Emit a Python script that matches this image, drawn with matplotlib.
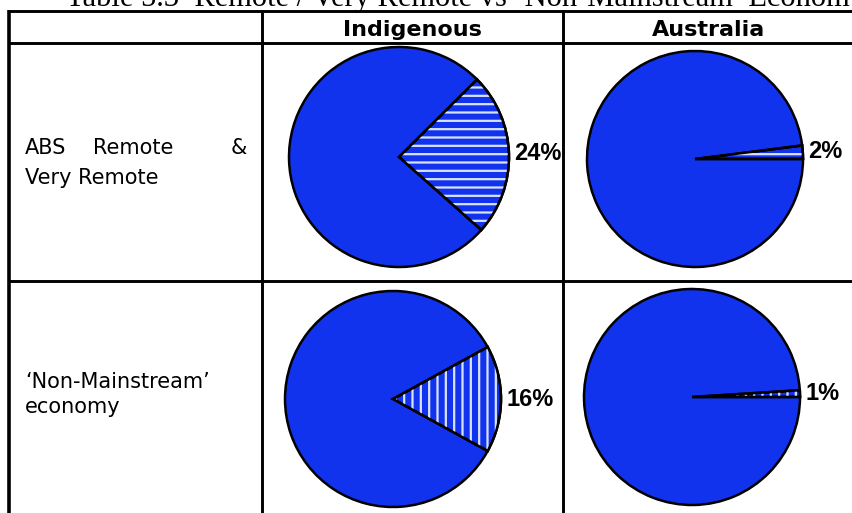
import matplotlib
matplotlib.use("Agg")
import matplotlib.pyplot as plt
from matplotlib.patches import Wedge

# ---- data ----
title = "Table 5.3  Remote / Very Remote vs \u2018Non-Mainstream\u2019 Economy"
columns = ["Indigenous", "Australia"]
rows = [["ABS", "Remote", "&"], ["Very Remote"]]
row2 = ["\u2018Non-Mainstream\u2019", "economy"]
pct_remote = [24, 2]          # Indigenous, Australia
pct_nonmain = [16, 1]
start_remote = [-41.6, 0]
start_nonmain = [-28.8, 0]

W, H = 853, 513
BLUE = "#1233EE"
HATCHC = "#D8E2FF"

plt.rcParams["hatch.linewidth"] = 1.6
fig = plt.figure(figsize=(W / 100, H / 100), dpi=100)
ax = fig.add_axes([0, 0, 1, 1])


def Y(y):
    return H - y


def draw_pie(cx, cy, r, pct, start, hatch):
    vals = [pct, 100 - pct]
    wedges, texts = ax.pie(
        vals, center=(cx, Y(cy)), radius=r, startangle=start,
        colors=[BLUE, BLUE], labels=[f"{pct}%", ""], labeldistance=1.05,
        wedgeprops=dict(edgecolor="black", linewidth=1.8),
        textprops=dict(fontsize=17, fontweight="bold", family="Liberation Sans"),
        frame=False,
    )
    w = wedges[0]
    hw = Wedge(w.center, w.r, w.theta1, w.theta2, facecolor="none",
               edgecolor=HATCHC, hatch=hatch, linewidth=0, zorder=3)
    ax.add_patch(hw)
    ow = Wedge(w.center, w.r, w.theta1, w.theta2, fill=False,
               edgecolor="black", linewidth=1.8, zorder=4)
    ax.add_patch(ow)


draw_pie(399, 157, 110, pct_remote[0], start_remote[0], "--")
draw_pie(695, 159, 108, pct_remote[1], start_remote[1], "--")
draw_pie(393, 399, 108, pct_nonmain[0], start_nonmain[0], "||")
draw_pie(692, 397, 108, pct_nonmain[1], start_nonmain[1], "||")

# ---- table lines ----
lw = 2.1
for yy in (11, 43, 281):
    ax.plot([8, W], [Y(yy), Y(yy)], color="black", lw=lw, solid_capstyle="butt")
ax.plot([9, 9], [Y(10), Y(H + 5)], color="black", lw=2.6, solid_capstyle="butt")
for xx in (262, 563):
    ax.plot([xx, xx], [Y(10), Y(H + 5)], color="black", lw=lw, solid_capstyle="butt")

# ---- header ----
hfont = dict(family="DejaVu Sans", fontweight="bold", fontsize=16)
ax.text(412, Y(36), columns[0], ha="center", va="baseline", **hfont)
ax.text(709, Y(36), columns[1], ha="center", va="baseline", **hfont)

# ---- row labels ----
tfont = dict(family="DejaVu Sans", fontsize=15)
ax.text(25, Y(154), rows[0][0], ha="left", va="baseline", **tfont)
ax.text(93, Y(154), rows[0][1], ha="left", va="baseline", **tfont)
ax.text(247, Y(154), rows[0][2], ha="right", va="baseline", **tfont)
ax.text(25, Y(184), rows[1][0], ha="left", va="baseline", **tfont)
ax.text(25, Y(388), row2[0], ha="left", va="baseline", **tfont)
ax.text(25, Y(413), row2[1], ha="left", va="baseline", **tfont)

# ---- title (partly cut at top) ----
ax.text(466, Y(6), title, ha="center", va="baseline",
        family="Liberation Serif", fontsize=22)

ax.set_xlim(0, W)
ax.set_ylim(0, H)
ax.set_aspect("auto")
ax.axis("off")
fig.savefig("out.png", dpi=100)
